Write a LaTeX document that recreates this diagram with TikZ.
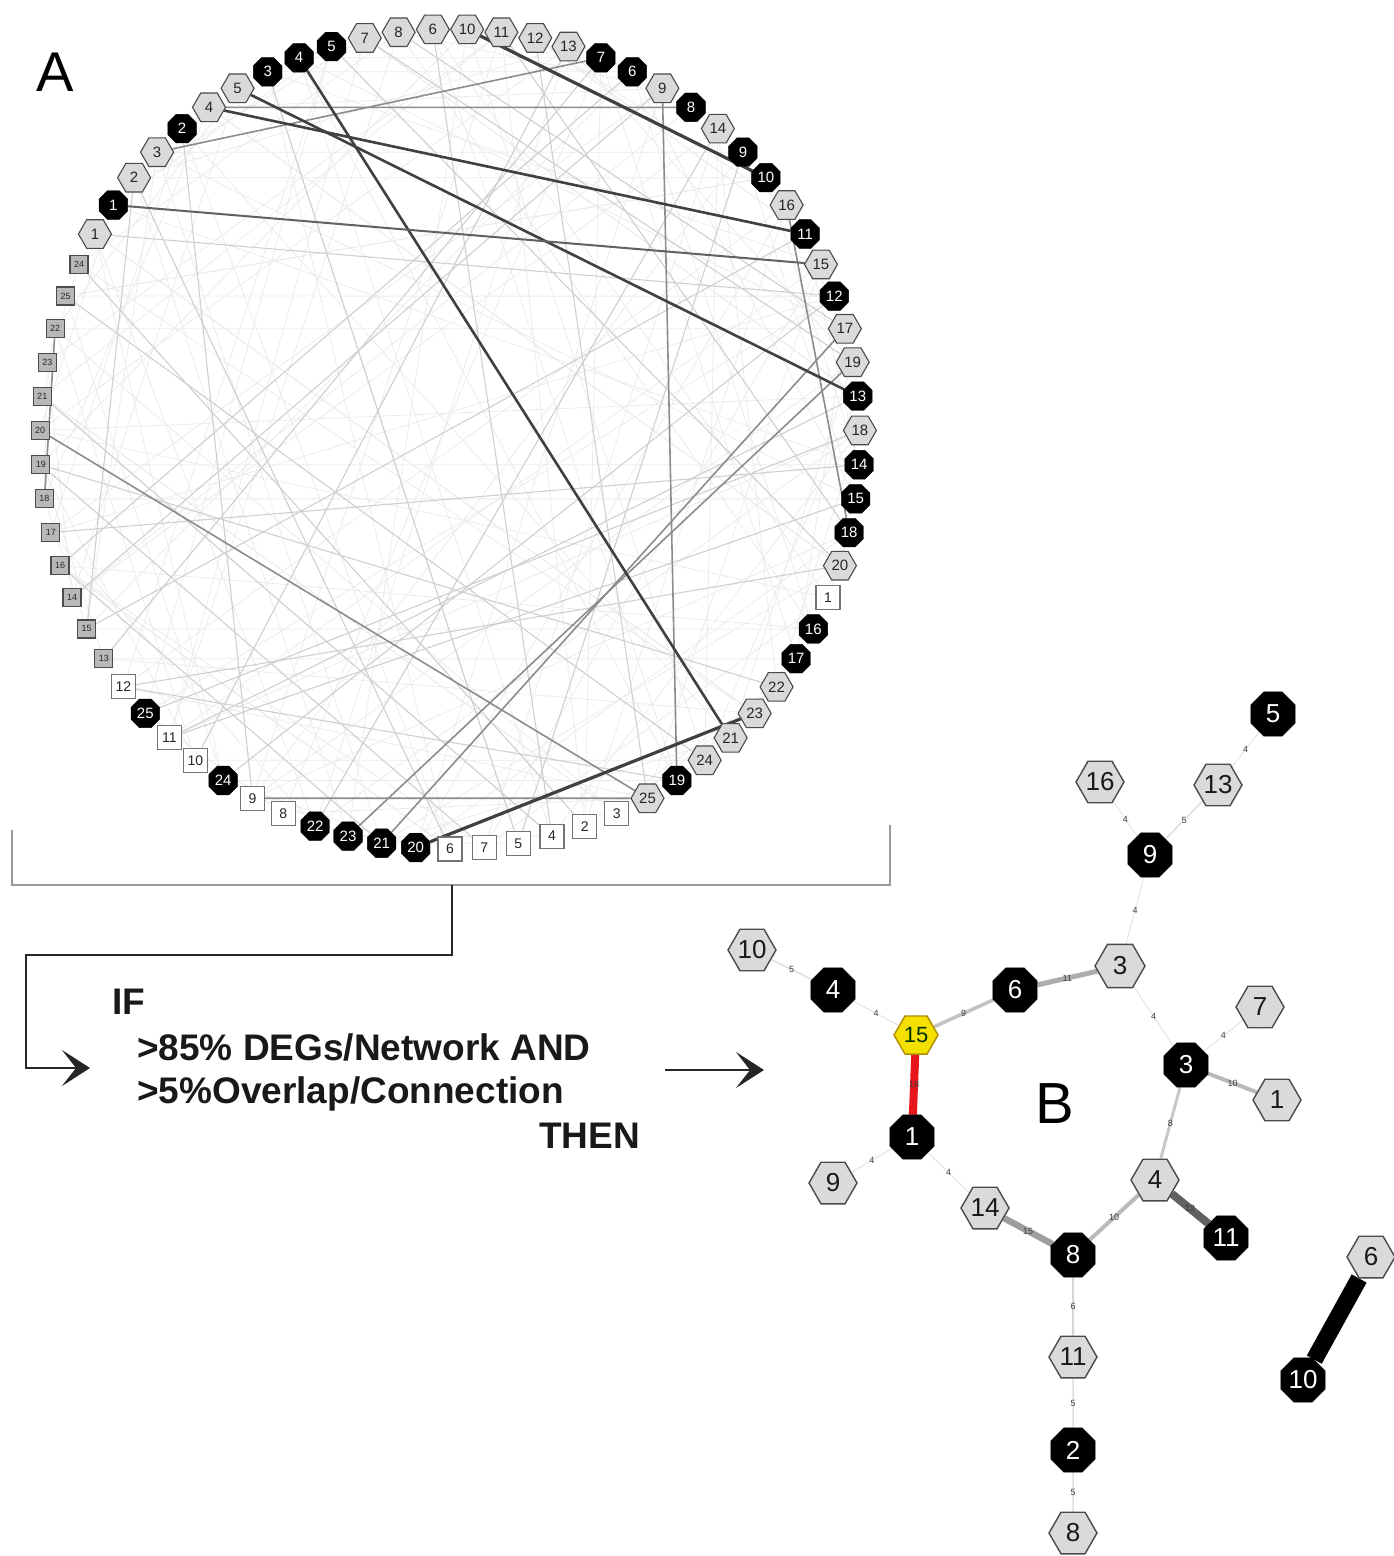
\documentclass[tikz,border=0pt]{standalone}
\usepackage{fontspec}
\setmainfont{Liberation Sans}
\usetikzlibrary{shapes.geometric,arrows.meta,backgrounds}
\definecolor{hexfill}{HTML}{DADADA}
\definecolor{hexdraw}{HTML}{4A4A4A}
\definecolor{yelfill}{HTML}{F4E000}
\definecolor{yeldraw}{HTML}{B08A00}
\definecolor{redE}{HTML}{E8141C}
\begin{document}
\begin{tikzpicture}[x=1pt,y=-1pt,
  hA/.style={regular polygon,regular polygon sides=6,minimum size=33pt,inner sep=0pt,fill=hexfill,draw=hexdraw,line width=1.1pt,text=black!85,font=\fontsize{15}{15}\selectfont},
  kA/.style={regular polygon,regular polygon sides=8,minimum size=31pt,inner sep=0pt,fill=black,draw=black,text=white,font=\fontsize{15}{15}\selectfont},
  sA/.style={rectangle,minimum size=24pt,inner sep=0pt,fill=white,draw=black!55,line width=1.2pt,text=black!85,font=\fontsize{14}{14}\selectfont},
  qA/.style={rectangle,minimum size=18pt,inner sep=0pt,fill=black!28,draw=black!70,line width=1.2pt,text=black!85,font=\fontsize{9}{9}\selectfont},
  hB/.style={regular polygon,regular polygon sides=6,minimum size=48pt,inner sep=0pt,fill=hexfill,draw=hexdraw,line width=1.4pt,text=black!90,font=\fontsize{26}{26}\selectfont},
  kB/.style={regular polygon,regular polygon sides=8,minimum size=48pt,inner sep=0pt,fill=black,draw=black,text=white,font=\fontsize{26}{26}\selectfont},
  yB/.style={hB,fill=yelfill,draw=yeldraw,minimum size=44pt,font=\fontsize{22}{22}\selectfont,text=black!80!green},
  e4/.style={draw=black!10,line width=1pt},
  e5/.style={draw=black!13,line width=1.5pt},
  e6/.style={draw=black!16,line width=2pt},
  e8/.style={draw=black!22,line width=3pt},
  e9/.style={draw=black!24,line width=3.5pt},
  e10/.style={draw=black!27,line width=4pt},
  e11/.style={draw=black!32,line width=5pt},
  e12/.style={draw=black!62,line width=8pt},
  e15/.style={draw=black!38,line width=6.5pt},
  eR/.style={draw=redE,line width=8pt},
  eBig/.style={draw=black,line width=17pt},
  elab/.style={font=\fontsize{9}{9}\selectfont,text=black!75,inner sep=0.5pt},
  dkA/.style={draw=black!75,line width=2.6pt},
  mdA/.style={draw=black!45,line width=1.6pt},
  ltA/.style={draw=black!19,line width=1.1pt},
  fnA/.style={draw=black!8,line width=0.8pt},
  txt/.style={font=\fontsize{37}{40}\selectfont\bfseries,text=black!90,inner sep=0pt},
  conn/.style={draw=black!85,line width=2.8pt},
  tipA/.style={-{Stealth[length=28pt,width=36pt,inset=14pt]}},
  brk/.style={draw=black!40,line width=2pt}
]
\useasboundingbox (0,0) rectangle (1393,1556);

% ---------------- Panel A: circular layout ----------------
\foreach \i/\l in {1/1,3/2,4/3,6/4,7/5,11/7,12/8,13/6,14/10,15/11,16/12,17/13,20/9,22/14,25/16,27/15,29/17,30/19,32/18,36/20,40/22,41/23,42/21,43/24,45/25}{
  \pgfmathsetmacro\ang{90-(\i-13.5)*4.8}
  \node[hA] (c\i) at ({450+410*cos(\ang)},{439-410*sin(\ang)}) {\l};
}
\foreach \i/\l in {2/1,5/2,8/3,9/4,10/5,18/7,19/6,21/8,23/9,24/10,26/11,28/12,31/13,33/14,34/15,35/18,38/16,39/17,44/19,52/20,53/21,54/23,55/22,58/24,61/25}{
  \pgfmathsetmacro\ang{90-(\i-13.5)*4.8}
  \node[kA] (c\i) at ({450+410*cos(\ang)},{439-410*sin(\ang)}) {\l};
}
\foreach \i/\l in {37/1,46/3,47/2,48/4,49/5,50/7,51/6,56/8,57/9,59/10,60/11,62/12}{
  \pgfmathsetmacro\ang{90-(\i-13.5)*4.8}
  \node[sA] (c\i) at ({450+410*cos(\ang)},{439-410*sin(\ang)}) {\l};
}
\foreach \i/\l in {63/13,64/15,65/14,66/16,67/17,68/18,69/19,70/20,71/21,72/23,73/22,74/25,75/24}{
  \pgfmathsetmacro\ang{90-(\i-13.5)*4.8}
  \node[qA] (c\i) at ({450+410*cos(\ang)},{439-410*sin(\ang)}) {\l};
}

\begin{scope}[on background layer]
  \foreach \i in {1,...,75}{
    \pgfmathtruncatemacro\j{mod(\i*29+11,75)+1}
    \pgfmathtruncatemacro\k{mod(\i*17+40,75)+1}
    \ifnum\i=\j\else\draw[fnA] (c\i) -- (c\j);\fi
    \ifnum\i=\k\else\draw[fnA] (c\i) -- (c\k);\fi
  }
  \foreach \a/\b in {11/30,12/29,1/28,5/57,10/36,15/35,16/45,17/59,19/66,22/55,23/49,28/58,32/61,33/67,36/62,40/69,43/74,47/75,48/71,3/51,8/49,13/48,60/34,64/26,65/20,69/50,66/53,62/44,3/64,18/63,31/60}
    \draw[ltA] (c\a) -- (c\b);
  \foreach \a/\b in {70/45,20/44,25/35,73/68,53/29,54/30,6/21,4/18,57/45}
    \draw[mdA] (c\a) -- (c\b);
  \foreach \a/\b in {6/26,7/31,9/42}
    \draw[dkA] (c\a) -- (c\b);
  \draw[dkA,line width=3.2pt] (c14) -- (c24);
  \draw[dkA,line width=3.2pt] (c52) -- (c41);
  \draw[dkA,draw=black!62,line width=2pt] (c2) -- (c27);
\end{scope}

\node[font=\fontsize{56}{56}\selectfont,inner sep=0pt] (lblA) at (55,72) {A};

% bracket and connector
\coordinate (brA) at (12,830);
\coordinate (brB) at (12,885);
\coordinate (brC) at (890,885);
\coordinate (brD) at (890,825);
\coordinate (brM) at (452,885);
\coordinate (jn) at (26,955);
\coordinate (aL) at (90,1068);
\draw[brk] (brA) -- (brB) -- (brC) -- (brD);
\draw[conn,tipA] (brM) |- (jn) |- (aL);

% condition text
\node[txt,anchor=base west] (tIF) at (112,1014) {IF};
\node[txt,anchor=base west] (t1) at (137,1060) {>85\% DEGs/Network AND};
\node[txt,anchor=base west] (t2) at (137,1103) {>5\%Overlap/Connection};
\node[txt,anchor=base east] (t3) at (640,1148) {THEN};
\coordinate (aR0) at (665,1070);
\coordinate (aR1) at (764,1070);
\draw[conn,tipA] (aR0) -- (aR1);

% ---------------- Panel B ----------------
\node[kB] (bk5) at (1273,714) {5};
\node[hB] (bh16) at (1100,782) {16};
\node[hB] (bh13) at (1218,785) {13};
\node[kB] (bk9) at (1150,855) {9};
\node[hB] (bh10) at (752,950) {10};
\node[kB] (bk4) at (833,990) {4};
\node[kB] (bk6) at (1015,990) {6};
\node[hB,minimum size=50pt] (bh3) at (1120,966) {3};
\node[hB] (bh7) at (1260,1007) {7};
\node[yB] (bh15) at (916,1035) {15};
\node[kB] (bk3) at (1186,1065) {3};
\node[hB] (bh1) at (1277,1100) {1};
\node[kB] (bk1) at (912,1137) {1};
\node[hB] (bh9) at (833,1183) {9};
\node[hB] (bh4) at (1155,1180) {4};
\node[hB] (bh14) at (985,1208) {14};
\node[kB] (bk11) at (1226,1238) {11};
\node[kB] (bk8) at (1073,1255) {8};
\node[hB] (bh6) at (1371,1257) {6};
\node[hB] (bh11) at (1073,1357) {11};
\node[kB] (bk10) at (1303,1380) {10};
\node[kB] (bk2) at (1073,1450) {2};
\node[hB] (bh8) at (1073,1533) {8};
\node[font=\fontsize{58}{58}\selectfont,inner sep=0pt] (lblB) at (1055,1104) {B};

\begin{scope}[on background layer]
  \draw[e4] (bk5) -- node[elab]{4} (bh13);
  \draw[e4] (bh16) -- node[elab]{4} (bk9);
  \draw[e5] (bh13) -- node[elab]{5} (bk9);
  \draw[e4] (bk9) -- node[elab]{4} (bh3);
  \draw[e5] (bh10) -- node[elab]{5} (bk4);
  \draw[e4] (bk4) -- node[elab]{4} (bh15);
  \draw[e9] (bh15) -- node[elab]{9} (bk6);
  \draw[e11] (bk6) -- node[elab]{11} (bh3);
  \draw[e4] (bh3) -- node[elab]{4} (bk3);
  \draw[e4] (bh7) -- node[elab]{4} (bk3);
  \draw[e10] (bk3) -- node[elab]{10} (bh1);
  \draw[eR] (bh15) -- node[elab]{18} (bk1);
  \draw[e4] (bk1) -- node[elab]{4} (bh9);
  \draw[e4] (bk1) -- node[elab]{4} (bh14);
  \draw[e8] (bk3) -- node[elab]{8} (bh4);
  \draw[e12] (bh4) -- node[elab]{12} (bk11);
  \draw[e15] (bh14) -- node[elab]{15} (bk8);
  \draw[e10] (bk8) -- node[elab]{10} (bh4);
  \draw[e6] (bk8) -- node[elab]{6} (bh11);
  \draw[e5] (bh11) -- node[elab]{5} (bk2);
  \draw[e5] (bk2) -- node[elab]{5} (bh8);
  \draw[eBig] (bh6) -- (bk10);
\end{scope}
\end{tikzpicture}
\end{document}
